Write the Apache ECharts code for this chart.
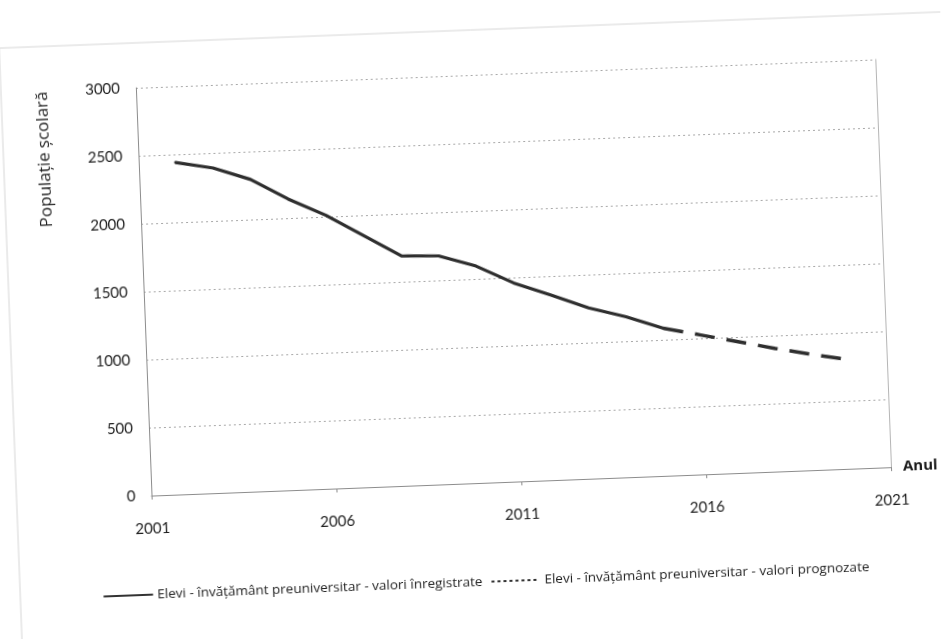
<!DOCTYPE html>
<html>
<head>
<meta charset="utf-8">
<script src="https://cdn.jsdelivr.net/npm/echarts@6/dist/echarts.min.js"></script>
<style>
  html, body { margin: 0; padding: 0; background: #ffffff; overflow: hidden; }
  #chart { width: 952px; height: 639px; transform: rotate(-2.2deg); transform-origin: 50% 50%; }
</style>
</head>
<body>
<div id="chart"></div>
<script>
// ---- data ----
const years = [2001, 2002, 2003, 2004, 2005, 2006, 2007, 2008, 2009, 2010,
               2011, 2012, 2013, 2014, 2015, 2016, 2017, 2018, 2019, 2020, 2021];
// recorded values (solid line), 2002-2015
const recorded = [null, 2440, 2390, 2295, 2140, 2010, 1850, 1690, 1680, 1595,
                  1460, 1360, 1255, 1180, 1085, null, null, null, null, null, null];
// forecast values (dashed line), 2015-2020
const forecast = [null, null, null, null, null, null, null, null, null, null,
                  null, null, null, null, 1085, 1025, 965, 905, 850, 800, null];
const seriesNames = [
  'Elevi - învățământ preuniversitar - valori înregistrate',
  'Elevi - învățământ preuniversitar - valori prognozate'
];
const yTitle = 'Populație școlară';
const xTitle = 'Anul';

const NUMFONT = 'Lato, "Open Sans", sans-serif';
const TXTFONT = '"Open Sans", Lato, sans-serif';
const chart = echarts.init(document.getElementById('chart'), null, { renderer: 'canvas' });

chart.setOption({
  animation: false,
  backgroundColor: '#ffffff',
  textStyle: { fontFamily: NUMFONT },
  grid: { left: 145, top: 75, width: 740, height: 408, containLabel: false },
  legend: {
    left: 88,
    top: 570,
    itemWidth: 48,
    itemHeight: 12,
    itemGap: 8,
    textStyle: { fontFamily: TXTFONT, fontSize: 13.5, color: '#1e1e1e' },
    data: [
      { name: seriesNames[0], itemStyle: { opacity: 0 }, lineStyle: { type: 'solid', width: 2, color: '#333' } },
      { name: seriesNames[1], itemStyle: { opacity: 0 }, lineStyle: { type: [3, 3], width: 2, color: '#333' } }
    ]
  },
  xAxis: {
    type: 'category',
    data: years,
    boundaryGap: false,
    name: xTitle,
    nameLocation: 'end',
    nameGap: 12,
    nameTextStyle: { fontFamily: TXTFONT, fontSize: 15, fontWeight: 'bold', color: '#1a1a1a', verticalAlign: 'middle' },
    axisLine: { show: true, lineStyle: { color: '#8c8c8c', width: 1 } },
    axisTick: { show: true, interval: 4, length: 4, lineStyle: { color: '#8c8c8c' } },
    axisLabel: { interval: 4, margin: 26, fontFamily: NUMFONT, fontSize: 15, color: '#1e1e1e' },
    splitLine: { show: false }
  },
  yAxis: [
    {
      type: 'value',
      min: 0,
      max: 3000,
      interval: 500,
      axisLine: { show: true, lineStyle: { color: '#8c8c8c', width: 1 } },
      axisTick: { show: false },
      axisLabel: {
        margin: 16, fontFamily: NUMFONT, fontSize: 15, color: '#1e1e1e',
        formatter: function (v) { return String(v); }
      },
      splitLine: { show: true, lineStyle: { color: '#a8a8a8', type: [2, 3], width: 1 } }
    },
    {
      type: 'value',
      min: 0,
      max: 3000,
      interval: 500,
      position: 'right',
      axisLine: { show: true, lineStyle: { color: '#b5b5b5', width: 1 } },
      axisTick: { show: false },
      axisLabel: { show: false },
      splitLine: { show: false }
    }
  ],
  series: [
    {
      name: seriesNames[0],
      type: 'line',
      data: recorded,
      symbol: 'none',
      smooth: false,
      connectNulls: false,
      lineStyle: { color: '#2e2e2e', width: 3.2, type: 'solid', cap: 'round', join: 'round' },
      itemStyle: { color: '#2e2e2e' }
    },
    {
      name: seriesNames[1],
      type: 'line',
      data: forecast,
      symbol: 'none',
      smooth: false,
      lineStyle: { color: '#2e2e2e', width: 3.5, type: [20, 12] },
      itemStyle: { color: '#2e2e2e' }
    }
  ],
  graphic: [
    {
      type: 'rect',
      silent: true,
      z: -1,
      shape: { x: 10, y: 30, width: 1000, height: 700 },
      style: { fill: 'none', stroke: '#d6d6d6', lineWidth: 1 }
    },
    {
      type: 'text',
      x: 51,
      y: 143,
      rotation: Math.PI / 2,
      style: {
        text: yTitle,
        fontFamily: TXTFONT,
        fontSize: 17,
        fill: '#1e1e1e',
        align: 'center',
        verticalAlign: 'middle'
      }
    }
  ]
});
</script>
</body>
</html>
